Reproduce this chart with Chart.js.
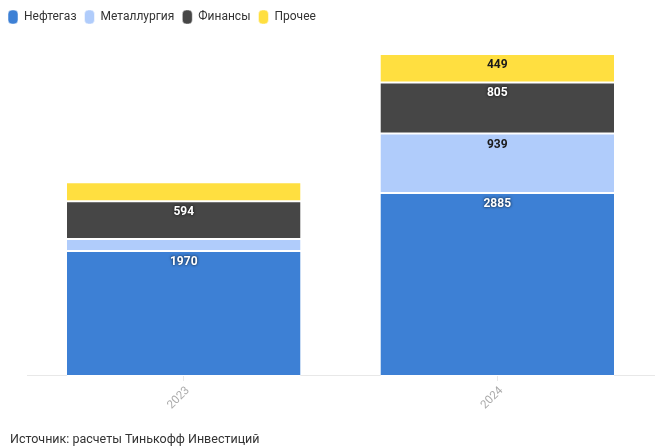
<!DOCTYPE html>
<html>
<head>
<meta charset="utf-8">
<script src="https://cdn.jsdelivr.net/npm/chart.js@4/dist/chart.umd.min.js"></script>
<style>
  html, body { margin: 0; padding: 0; background: #fff; }
  #wrap { width: 672px; height: 447px; }
</style>
</head>
<body>
<div id="wrap"><canvas id="barChart"></canvas></div>
<script>
const years = ['2023', '2024'];
const neftegaz = [1970, 2885];
const metall = [190, 939];
const finansy = [594, 805];
const prochee = [300, 449];
const seriesNames = ['Нефтегаз', 'Металлургия', 'Финансы', 'Прочее'];
const source = 'Источник: расчеты Тинькофф Инвестиций';

// только подписи для сегментов, которые видно на картинке
const shownLabels = [
    [true, true],
    [false, true],
    [true, true],
    [false, true]
];

const totals = years.map((y, i) => neftegaz[i] + metall[i] + finansy[i] + prochee[i]);

Chart.defaults.font.family = 'Roboto, sans-serif';

// отступ под легендой и сдвиг подписи источника
const legendMargin = {
    id: 'legendMargin',
    beforeInit(chart) {
        const fit = chart.legend.fit;
        chart.legend.fit = function () {
            fit.bind(chart.legend)();
            this.height += 20;
        };
    },
    afterLayout(chart) {
        if (chart.titleBlock) {
            chart.titleBlock.left += 10;
            chart.titleBlock.right += 10;
        }
    }
};

// подписи значений вверху сегментов
const segLabels = {
    id: 'segLabels',
    afterDatasetsDraw(chart) {
        const c = chart.ctx;
        chart.data.datasets.forEach((ds, di) => {
            const meta = chart.getDatasetMeta(di);
            meta.data.forEach((bar, i) => {
                if (!shownLabels[di][i]) return;
                c.save();
                c.font = 'bold 12px Roboto, sans-serif';
                c.textAlign = 'center';
                c.textBaseline = 'middle';
                if (ds.labelDark) {
                    c.fillStyle = '#1a1a1a';
                } else {
                    c.fillStyle = '#fff';
                    c.shadowColor = 'rgba(0,0,0,0.9)';
                    c.shadowBlur = 3;
                }
                c.fillText(String(ds.data[i]), bar.x, bar.y + 11);
                c.restore();
            });
        });
    }
};

const ctx = document.getElementById('barChart').getContext('2d');
const barChart = new Chart(ctx, {
    type: 'bar',
    data: {
        labels: years,
        datasets: [
            { label: seriesNames[0], data: neftegaz, backgroundColor: '#3d80d5', labelDark: false },
            { label: seriesNames[1], data: metall, backgroundColor: '#b0ccfb', labelDark: true },
            { label: seriesNames[2], data: finansy, backgroundColor: '#464646', labelDark: false },
            { label: seriesNames[3], data: prochee, backgroundColor: '#ffdf40', labelDark: true }
        ].map(d => Object.assign(d, {
            borderColor: '#fff',
            borderWidth: { top: 1, bottom: 1, left: 0, right: 0 },
            borderSkipped: false,
            categoryPercentage: 0.745,
            barPercentage: 1
        }))
    },
    plugins: [legendMargin, segLabels],
    options: {
        responsive: true,
        maintainAspectRatio: false,
        animation: false,
        layout: { padding: { left: 0, right: 18, top: 2, bottom: 0 } },
        plugins: {
            legend: {
                position: 'top',
                align: 'start',
                labels: {
                    boxWidth: 10,
                    boxHeight: 14,
                    useBorderRadius: true,
                    borderRadius: 4,
                    color: '#333',
                    padding: 8,
                    font: { size: 12 }
                }
            },
            title: {
                display: true,
                position: 'bottom',
                align: 'start',
                text: source,
                color: '#333',
                font: { size: 12.5, weight: 'normal' },
                padding: { top: 17, bottom: 0 }
            },
            tooltip: { enabled: false }
        },
        scales: {
            x: {
                stacked: true,
                border: { color: '#e8e8e8' },
                grid: {
                    offset: false,
                    drawOnChartArea: false,
                    drawTicks: true,
                    tickLength: 5,
                    color: '#e8e8e8'
                },
                ticks: {
                    color: '#aaa',
                    font: { size: 11.5 },
                    minRotation: 45,
                    maxRotation: 45,
                    labelOffset: 4
                }
            },
            y: {
                stacked: true,
                display: true,
                min: 0,
                max: Math.max(...totals),
                ticks: { display: false },
                grid: { display: false },
                border: { display: false },
                afterFit(scale) { scale.width = 27; }
            }
        }
    }
});
</script>
</body>
</html>
